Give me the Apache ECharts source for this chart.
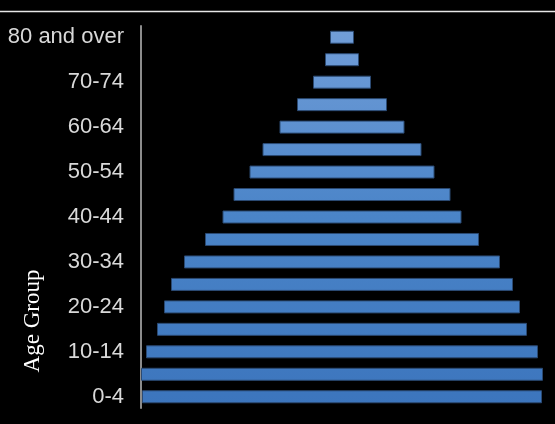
<!DOCTYPE html>
<html>
<head>
<meta charset="utf-8">
<script src="https://cdn.jsdelivr.net/npm/echarts@6/dist/echarts.min.js"></script>
<style>html,body{margin:0;padding:0;background:#000;}#c{width:555px;height:424px;}</style>
</head>
<body>
<div id="c"></div>
<script>
var categories = ['0-4','5-9','10-14','15-19','20-24','25-29','30-34','35-39','40-44','45-49','50-54','55-59','60-64','65-69','70-74','75-79','80 and over'];
var population = [400, 402, 392, 370, 356, 342, 316, 274, 239, 217, 185, 159, 125, 90, 58, 34, 24];
var axisMax = 402;

var offsets = population.map(function(v){ return (axisMax - v) / 2; });

var chart = echarts.init(document.getElementById('c'), null, {renderer:'canvas'});
chart.setOption({
  backgroundColor: '#000',
  animation: false,
  grid: {left: 141, right: 12, top: 26, bottom: 16, containLabel: false},
  xAxis: {type:'value', min:0, max:axisMax, show:false},
  yAxis: {
    type:'category', data: categories,
    axisLine: {show:true, lineStyle:{color:'#8c8c8c', width:2}},
    axisTick: {show:false},
    axisLabel: {interval: 1, color:'#d9d9d9', fontFamily:'Liberation Sans, Arial, sans-serif', fontSize:22, margin:17}
  },
  series: [
    {type:'bar', stack:'p', data: offsets, itemStyle:{color:'rgba(0,0,0,0)'}, barWidth:13, silent:true},
    {type:'bar', stack:'p', data: population, barWidth:13,
     itemStyle:{
       color: new echarts.graphic.LinearGradient(0, 26, 0, 408, [
         {offset:0, color:'#729ed8'}, {offset:0.5, color:'#4a84c8'}, {offset:1, color:'#3c75bd'}
       ], true),
       borderColor:'#2b4a73', borderWidth:1
     }}
  ],
  graphic: [
    {type:'line', shape:{x1:0, y1:11.5, x2:555, y2:11.5}, style:{stroke:'#e6e6e6', lineWidth:1.5}},
    {type:'text', x:33, y:321, rotation:Math.PI/2,
     style:{text:'Age Group', fill:'#ffffff', font:'23px "Liberation Serif", "Times New Roman", serif', textAlign:'center', textVerticalAlign:'middle'}}
  ]
});
</script>
</body>
</html>
